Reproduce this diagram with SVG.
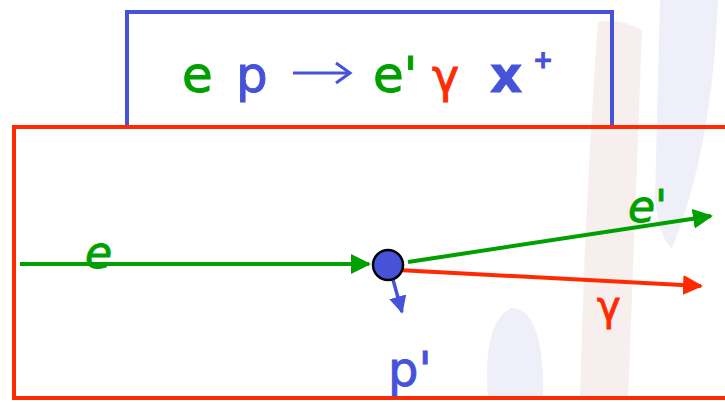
<svg xmlns="http://www.w3.org/2000/svg" width="725" height="402" viewBox="0 0 725 402">
<style>
.t{font-family:"DejaVu Sans","Liberation Sans",sans-serif;stroke-width:0.9;}
.g{fill:#00a000;stroke:#00a000}.b{fill:#4652d8;stroke:#4652d8}.r{fill:#ff2a00;stroke:#ff2a00}
</style>
<defs>
<marker id="ag" viewBox="0 0 10 10" refX="9" refY="5" markerWidth="5" markerHeight="5" orient="auto" markerUnits="strokeWidth"><path d="M0,0L10,5L0,10z" fill="#00a000"/></marker>
<marker id="ar" viewBox="0 0 10 10" refX="9" refY="5" markerWidth="5" markerHeight="5" orient="auto" markerUnits="strokeWidth"><path d="M0,0L10,5L0,10z" fill="#ff2a00"/></marker>
<marker id="ab" viewBox="0 0 10 10" refX="9" refY="5" markerWidth="5" markerHeight="5" orient="auto" markerUnits="strokeWidth"><path d="M0,0L10,5L0,10z" fill="#4652d8"/></marker>
</defs>
<rect width="725" height="402" fill="#fff"/>
<g id="watermark">
<path d="M598,22 Q620,18 642,30 L628,400 L580,400 Q585,200 598,22z" fill="#f7eeee"/>
<path d="M660,0 L718,0 Q712,150 672,248 Q660,240 655,200z" fill="#eeeff8"/>
<path d="M488,400 Q482,320 512,308 Q545,310 543,400z" fill="#eeeff8"/>
</g>
<g id="title-box">
<rect x="127" y="12" width="485" height="115" fill="none" stroke="#4652d8" stroke-width="4"/>
<text class="t" y="92" font-size="50"><tspan class="g" x="182">e</tspan><tspan class="b" x="236">p</tspan><tspan class="g" x="373">e'</tspan><tspan class="r" x="432" font-size="46">γ</tspan><tspan class="b" x="490" font-weight="bold">x</tspan><tspan class="b" x="533" dy="-24" font-size="24" font-weight="bold">+</tspan></text>
<line x1="293" y1="73" x2="350" y2="73" stroke="#4652d8" stroke-width="3"/>
<path d="M336,63 L350,73 L336,83" fill="none" stroke="#4652d8" stroke-width="3"/>
</g>
<g id="frame">
<rect x="14" y="127" width="740" height="271" fill="none" stroke="#ff2a00" stroke-width="4"/>
</g>
<g id="connectors" stroke-width="4" fill="none">
<line x1="20" y1="264" x2="369" y2="264" stroke="#00a000" marker-end="url(#ag)"/>
<line x1="408" y1="262" x2="711" y2="216" stroke="#00a000" marker-end="url(#ag)"/>
<line x1="398" y1="270" x2="701" y2="286" stroke="#ff2a00" marker-end="url(#ar)"/>
<line x1="392" y1="276" x2="402" y2="312" stroke="#4652d8" stroke-width="3.5" marker-end="url(#ab)"/>
</g>
<g id="vertex">
<circle cx="388" cy="265" r="15" fill="#4652d8" stroke="#000" stroke-width="2.5"/>
</g>
<g id="labels" class="t">
<text class="g" x="85" y="268" font-size="44" font-style="italic">e</text>
<text class="g" x="628" y="222" font-size="44" font-style="italic">e'</text>
<text class="r" x="597" y="320" font-size="40">γ</text>
<text class="b" x="388" y="386" font-size="48">p'</text>
</g>
</svg>
